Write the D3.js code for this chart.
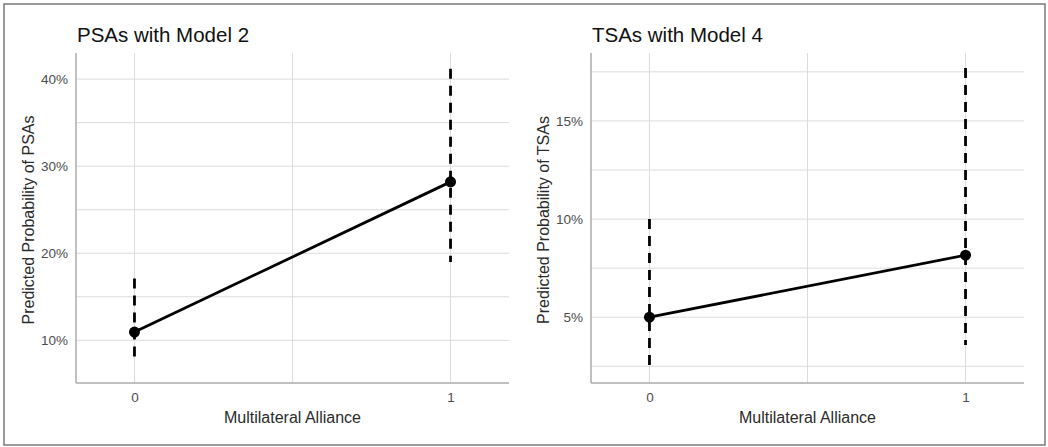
<!DOCTYPE html>
<html lang="en">
<head>
    <meta charset="UTF-8">
    <title>Predicted Probabilities</title>
    <script src="https://d3js.org/d3.v7.min.js"></script>
    <style>
        body { margin: 0; background: #fff; }
        text { font-family: "Liberation Sans", Arial, sans-serif; }
    </style>
</head>
<body>
    <script>
        // values (percent)
        const alliance = [0, 1];
        const xTicks = [0, 1];
        const xMinor = [0.5];

        const psaEst = [10.95, 28.2];
        const psaLow = [7.6, 19.0];
        const psaHigh = [17.1, 41.2];
        const psaTicks = [10, 20, 30, 40];
        const psaMinor = [15, 25, 35];

        const tsaEst = [5.0, 8.16];
        const tsaLow = [2.5, 3.59];
        const tsaHigh = [10.0, 17.7];
        const tsaTicks = [5, 10, 15];
        const tsaMinor = [2.5, 7.5, 12.5, 17.5];

        const width = 1048, height = 447;

        const svg = d3.select("body").append("svg")
            .attr("width", width)
            .attr("height", height);

        svg.append("rect")
            .attr("x", 4).attr("y", 4)
            .attr("width", 1041).attr("height", 441)
            .attr("fill", "#fff")
            .attr("stroke", "#7a7a7a")
            .attr("stroke-width", 1.5);

        function panel(opts) {
            const top = 53, bottom = 383;
            const x = d3.scaleLinear().domain([-0.185, 1.185]).range([opts.left, opts.left + 433]);
            const y = d3.scaleLinear().domain(opts.yDomain).range([bottom, top]);
            const g = svg.append("g");

            // grid
            g.selectAll(".hgrid")
                .data(opts.ticks.concat(opts.minor))
                .enter().append("line")
                .attr("x1", x.range()[0]).attr("x2", x.range()[1])
                .attr("y1", d => y(d)).attr("y2", d => y(d))
                .attr("stroke", "#dcdcdc").attr("stroke-width", 1);

            g.selectAll(".vgrid")
                .data(xTicks.concat(xMinor))
                .enter().append("line")
                .attr("x1", d => x(d)).attr("x2", d => x(d))
                .attr("y1", top).attr("y2", bottom)
                .attr("stroke", "#dcdcdc").attr("stroke-width", 1);

            // axis lines
            g.append("line")
                .attr("x1", x.range()[0]).attr("x2", x.range()[0])
                .attr("y1", top).attr("y2", bottom)
                .attr("stroke", "#ababab").attr("stroke-width", 1.5);
            g.append("line")
                .attr("x1", x.range()[0]).attr("x2", x.range()[1])
                .attr("y1", bottom).attr("y2", bottom)
                .attr("stroke", "#ababab").attr("stroke-width", 1.5);

            // tick labels
            const yAxis = g.append("g")
                .attr("transform", `translate(${x.range()[0]},0)`)
                .call(d3.axisLeft(y).tickValues(opts.ticks).tickSize(0).tickPadding(8)
                    .tickFormat(d => d + "%"));
            const xAxis = g.append("g")
                .attr("transform", `translate(0,${bottom})`)
                .call(d3.axisBottom(x).tickValues(xTicks).tickSize(0).tickPadding(9)
                    .tickFormat(d3.format("d")));
            [yAxis, xAxis].forEach(a => {
                a.select(".domain").remove();
                a.selectAll("text")
                    .attr("fill", "#4d4d4d")
                    .style("font-size", "13.5px")
                    .style("font-family", "'Liberation Sans', Arial, sans-serif");
            });

            // titles
            g.append("text")
                .attr("x", x.range()[0] + 1).attr("y", 42)
                .attr("fill", "#111")
                .style("font-size", "20.5px")
                .text(opts.title);
            g.append("text")
                .attr("x", (x.range()[0] + x.range()[1]) / 2).attr("y", 423)
                .attr("text-anchor", "middle")
                .attr("fill", "#2b2b2b")
                .style("font-size", "16px")
                .text("Multilateral Alliance");
            g.append("text")
                .attr("transform", `translate(${opts.left - 42},${(top + bottom) / 2 + 2}) rotate(-90)`)
                .attr("text-anchor", "middle")
                .attr("fill", "#2b2b2b")
                .style("font-size", "16px")
                .text(opts.yTitle);

            // confidence intervals
            g.selectAll(".ci")
                .data(alliance)
                .enter().append("line")
                .attr("x1", d => x(d)).attr("x2", d => x(d))
                .attr("y1", (d, i) => y(opts.high[i]))
                .attr("y2", (d, i) => y(opts.low[i]))
                .attr("stroke", "#000").attr("stroke-width", 2.8)
                .attr("stroke-dasharray", "10,7");

            // estimate line and points
            const line = d3.line().x(d => x(d)).y((d, i) => y(opts.est[i]));
            g.append("path")
                .datum(alliance)
                .attr("d", line)
                .attr("fill", "none")
                .attr("stroke", "#000").attr("stroke-width", 2.8);

            g.selectAll(".pt")
                .data(alliance)
                .enter().append("circle")
                .attr("cx", d => x(d))
                .attr("cy", (d, i) => y(opts.est[i]))
                .attr("r", 5.5)
                .attr("fill", "#000");
        }

        panel({
            left: 76, yDomain: [5.1, 43.0],
            ticks: psaTicks, minor: psaMinor,
            est: psaEst, low: psaLow, high: psaHigh,
            title: "PSAs with Model 2",
            yTitle: "Predicted Probability of PSAs"
        });

        panel({
            left: 591, yDomain: [1.65, 18.46],
            ticks: tsaTicks, minor: tsaMinor,
            est: tsaEst, low: tsaLow, high: tsaHigh,
            title: "TSAs with Model 4",
            yTitle: "Predicted Probability of TSAs"
        });
    </script>
</body>
</html>
